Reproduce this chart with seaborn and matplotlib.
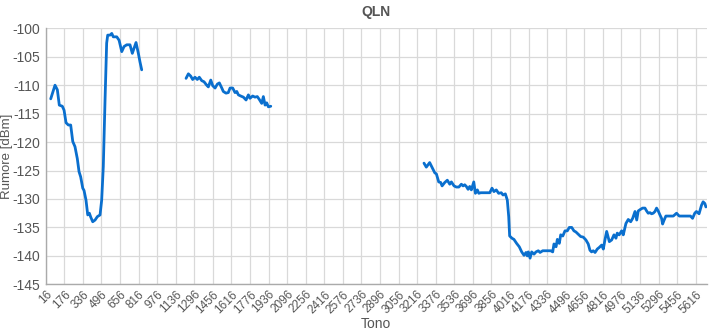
import matplotlib
matplotlib.use("Agg")
import matplotlib.pyplot as plt
import seaborn as sns
import pandas as pd

# ---- data ----
seg1_tone = [59, 96, 116, 133, 159, 174, 191, 211, 231, 249, 268, 288, 303, 317, 335, 346, 363, 378,
             392, 404, 421, 441, 461, 484, 498, 512, 527, 541, 550, 570, 585, 598, 628, 648, 671, 691,
             714, 742, 762, 777, 794, 814, 828, 843]
seg1_qln = [-112.4, -110.0, -110.8, -113.5, -113.7, -114.4, -116.6, -117.0, -117.0, -119.9, -120.8,
            -122.9, -125.2, -126.1, -128.1, -128.5, -130.2, -132.8, -132.5, -133.2, -134.0, -133.7,
            -133.1, -132.8, -130.2, -124.3, -112.6, -102.6, -101.2, -101.2, -100.9, -101.5, -101.5,
            -102.1, -104.1, -103.2, -102.9, -102.9, -104.4, -103.5, -102.5, -104.4, -105.9, -107.3]

seg2_tone = [1225, 1245, 1265, 1282, 1302, 1322, 1339, 1360, 1380, 1403, 1417, 1438, 1455, 1475, 1495,
             1512, 1533, 1546, 1569, 1589, 1604, 1627, 1647, 1662, 1676, 1696, 1719, 1742, 1762, 1776,
             1799, 1819, 1839, 1856, 1877, 1891, 1906, 1920, 1934, 1955]
seg2_qln = [-108.8, -108.0, -108.4, -109.0, -108.6, -109.0, -108.6, -109.2, -109.4, -110.0, -110.3,
            -109.1, -110.1, -110.5, -109.8, -109.6, -110.5, -111.1, -111.4, -111.3, -110.5, -110.5,
            -111.3, -111.1, -111.7, -111.9, -112.1, -112.6, -111.7, -112.3, -111.9, -112.1, -112.0,
            -112.5, -113.2, -112.0, -113.5, -113.1, -113.8, -113.7]

seg3_tone = [3275, 3295, 3324, 3344, 3368, 3382, 3402, 3419, 3431, 3454, 3476, 3497, 3511, 3534, 3554,
             3575, 3597, 3612, 3626, 3640, 3655, 3669, 3683, 3704, 3718, 3735, 3747, 3764, 3784, 3812,
             3842, 3861, 3878, 3898, 3918, 3941, 3956, 3976, 3993, 4005, 4013, 4033, 4050, 4073, 4096,
             4117, 4137, 4154, 4165, 4174, 4189, 4203, 4223, 4240, 4260, 4275, 4298, 4332, 4367, 4384,
             4395, 4413, 4424, 4441, 4453, 4471, 4490, 4510, 4527, 4548, 4567, 4584, 4604, 4625, 4647,
             4670, 4690, 4705, 4719, 4733, 4749, 4768, 4786, 4806, 4820, 4834, 4849, 4872, 4892, 4912,
             4929, 4940, 4957, 4978, 4992, 5015, 5035, 5056, 5073, 5093, 5108, 5121, 5142, 5159, 5179,
             5193, 5207, 5222, 5236, 5250, 5265, 5279, 5293, 5308, 5322, 5331, 5342, 5359, 5394, 5423,
             5451, 5474, 5508, 5542, 5571, 5589, 5608, 5622, 5645, 5666, 5680, 5695, 5704]
seg3_qln = [-123.7, -124.4, -123.6, -124.4, -125.4, -125.6, -127.0, -127.1, -127.7, -127.1, -126.7,
            -127.4, -127.0, -127.7, -127.9, -127.9, -127.4, -127.7, -127.5, -127.8, -128.3, -127.8,
            -128.4, -127.0, -129.0, -128.4, -129.0, -128.9, -128.9, -128.9, -128.9, -128.1, -128.7,
            -128.4, -129.0, -128.9, -129.3, -129.1, -130.2, -133.1, -136.5, -136.9, -137.1, -137.8,
            -138.4, -139.3, -139.9, -139.4, -140.0, -139.3, -140.4, -139.3, -139.7, -139.3, -139.1,
            -139.4, -139.1, -139.1, -139.1, -139.3, -137.9, -138.4, -137.1, -137.8, -136.3, -136.5,
            -135.6, -135.6, -135.0, -135.0, -135.6, -135.8, -136.2, -136.6, -136.7, -137.2, -137.9,
            -139.0, -139.3, -139.1, -139.4, -138.8, -138.5, -138.1, -138.8, -137.2, -135.7, -137.5,
            -137.2, -136.3, -136.9, -136.0, -136.3, -135.6, -136.3, -134.3, -133.6, -134.0, -133.4,
            -132.2, -133.7, -132.1, -131.8, -131.6, -131.6, -132.1, -132.5, -132.4, -132.6, -132.5,
            -132.2, -131.6, -132.1, -132.8, -133.4, -134.4, -133.8, -133.0, -133.0, -133.0, -132.5,
            -133.0, -133.0, -133.0, -133.0, -133.4, -132.5, -132.2, -132.6, -131.1, -130.5, -130.8,
            -131.4]

x_ticks = list(range(16, 5617, 160))
y_ticks = [-145, -140, -135, -130, -125, -120, -115, -110, -105, -100]

# ---- build frame ----
frames = []
for i, (t, q) in enumerate([(seg1_tone, seg1_qln), (seg2_tone, seg2_qln), (seg3_tone, seg3_qln)]):
    frames.append(pd.DataFrame({"Tono": t, "QLN": q, "seg": i}))
df = pd.concat(frames, ignore_index=True)

sns.set_theme(style="whitegrid")
plt.rcParams["font.family"] = ["Liberation Sans", "DejaVu Sans"]

text_col = "#555555"
fig = plt.figure(figsize=(7.27, 3.31), dpi=100)
ax = fig.add_axes([0.0629, 0.141, 0.9092, 0.7735])

sns.lineplot(data=df, x="Tono", y="QLN", units="seg", estimator=None,
             color="#0a6fce", linewidth=2.0, ax=ax)

ax.set_xlim(16, 5711)
ax.set_ylim(-145, -100)
ax.set_xticks(x_ticks)
ax.set_xticklabels([str(v) for v in x_ticks], rotation=45, ha="right",
                   rotation_mode="anchor", fontsize=8.5, color=text_col)
ax.set_yticks(y_ticks)
ax.set_yticklabels([str(v) for v in y_ticks], fontsize=10, color=text_col)
ax.tick_params(axis="both", length=0, pad=4)
ax.tick_params(axis="x", pad=3)

ax.grid(True, color="#d9d9d9", linewidth=0.9)
for s in ["top", "right"]:
    ax.spines[s].set_visible(False)
for s in ["left", "bottom"]:
    ax.spines[s].set_visible(True)
    ax.spines[s].set_color("#aaaaaa")
    ax.spines[s].set_linewidth(1.0)

ax.set_xlabel("Tono", fontsize=10, color=text_col)
ax.xaxis.set_label_coords(0.5, -0.126)
ax.xaxis.label.set_va("top")
ax.set_ylabel("Rumore [dBm]", fontsize=9.5, color=text_col)
ax.yaxis.set_label_coords(-0.0495, 0.5)
ax.set_title("QLN", fontsize=10, fontweight="bold", color=text_col, pad=9)

fig.savefig("out.png", dpi=100)
